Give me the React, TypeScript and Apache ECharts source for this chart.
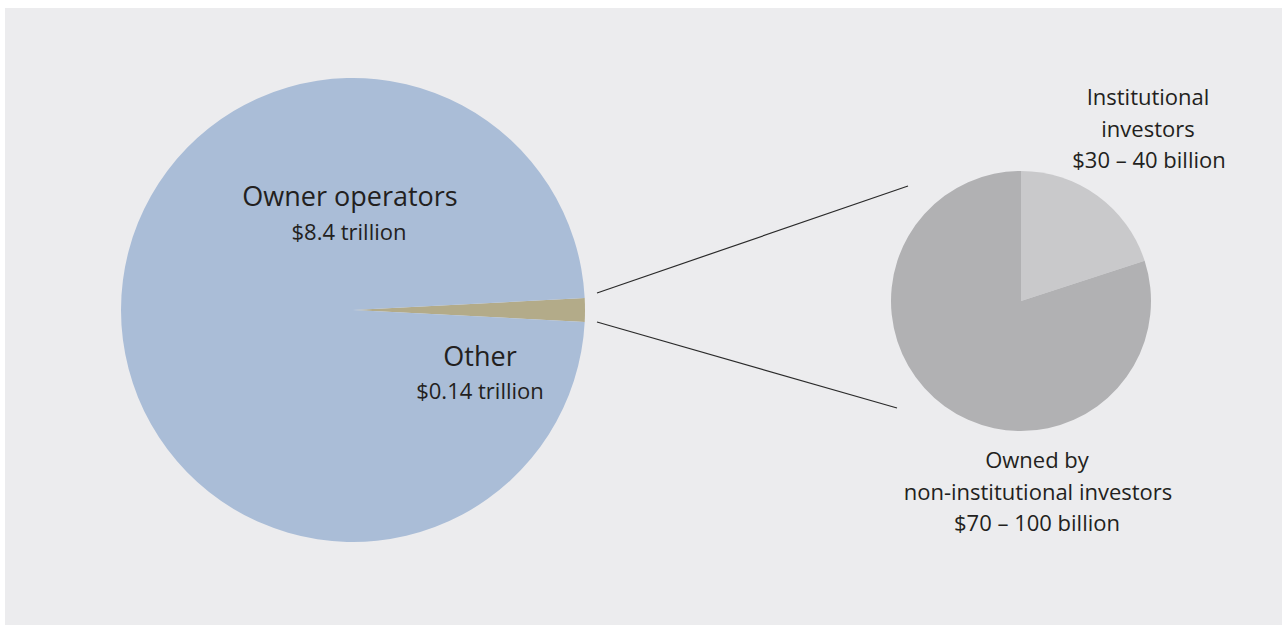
import React, { useEffect, useRef } from "react";
import * as echarts from "echarts";

const mainNames = ["Other", "Owner operators"];
const mainValues = [0.14, 8.4];
const mainColors = ["#b3ab89", "#aabdd7"];

const subNames = ["Institutional investors", "Owned by non-institutional investors"];
const subShares = [20, 80];
const subColors = ["#c9c9cb", "#b1b1b3"];

const labelOwner = ["Owner operators", "$8.4 trillion"];
const labelOther = ["Other", "$0.14 trillion"];
const labelInst = ["Institutional", "investors", "$30 – 40 billion"];
const labelOwned = ["Owned by", "non-institutional investors", "$70 – 100 billion"];

const FONT = "'Open Sans', Lato, sans-serif";
const TEXT = "#231f20";

export default function App() {
  const ref = useRef<HTMLDivElement>(null);
  useEffect(() => {
    if (!ref.current) return;
    const chart = echarts.init(ref.current, undefined, { renderer: "svg" });
    const total = mainValues.reduce((a, b) => a + b, 0);
    const halfAngle = (mainValues[0] / total) * 180;

    const txt = (s: string, x: number, y: number, size: number) => ({
      type: "text",
      x,
      y,
      z: 10,
      style: {
        text: s,
        fill: TEXT,
        font: `${size}px ${FONT}`,
        align: "center",
        verticalAlign: "middle",
      },
    });

    chart.setOption({
      animation: false,
      backgroundColor: "#ffffff",
      graphic: [
        {
          type: "rect",
          z: -10,
          shape: { x: 5, y: 8, width: 1277, height: 617 },
          style: { fill: "#ececee" },
          silent: true,
        },
        {
          type: "line",
          shape: { x1: 597, y1: 293, x2: 908, y2: 186 },
          style: { stroke: "#2a2a2a", lineWidth: 1.2 },
        },
        {
          type: "line",
          shape: { x1: 597, y1: 322, x2: 897, y2: 408 },
          style: { stroke: "#2a2a2a", lineWidth: 1.2 },
        },
        txt(labelOwner[0], 350, 195, 27),
        txt(labelOwner[1], 349, 231, 22),
        txt(labelOther[0], 480, 355, 27),
        txt(labelOther[1], 480, 390, 22),
        txt(labelInst[0], 1148, 96, 22),
        txt(labelInst[1], 1148, 128, 22),
        txt(labelInst[2], 1149, 159, 22),
        txt(labelOwned[0], 1037, 459, 22),
        txt(labelOwned[1], 1038, 491, 22),
        txt(labelOwned[2], 1037, 522, 22),
      ],
      series: [
        {
          type: "pie",
          center: [353, 310],
          radius: [0, 232],
          startAngle: halfAngle,
          clockwise: true,
          label: { show: false },
          labelLine: { show: false },
          silent: true,
          itemStyle: { borderWidth: 0 },
          data: mainNames.map((n, i) => ({
            name: n,
            value: mainValues[i],
            itemStyle: { color: mainColors[i] },
          })),
        },
        {
          type: "pie",
          center: [1021, 301],
          radius: [0, 130],
          startAngle: 90,
          clockwise: true,
          label: { show: false },
          labelLine: { show: false },
          silent: true,
          itemStyle: { borderWidth: 0 },
          data: subNames.map((n, i) => ({
            name: n,
            value: subShares[i],
            itemStyle: { color: subColors[i] },
          })),
        },
      ],
    });
    return () => chart.dispose();
  }, []);
  return (
    <div
      ref={ref}
      style={{ position: "fixed", left: 0, top: 0, width: 1287, height: 627 }}
    />
  );
}
